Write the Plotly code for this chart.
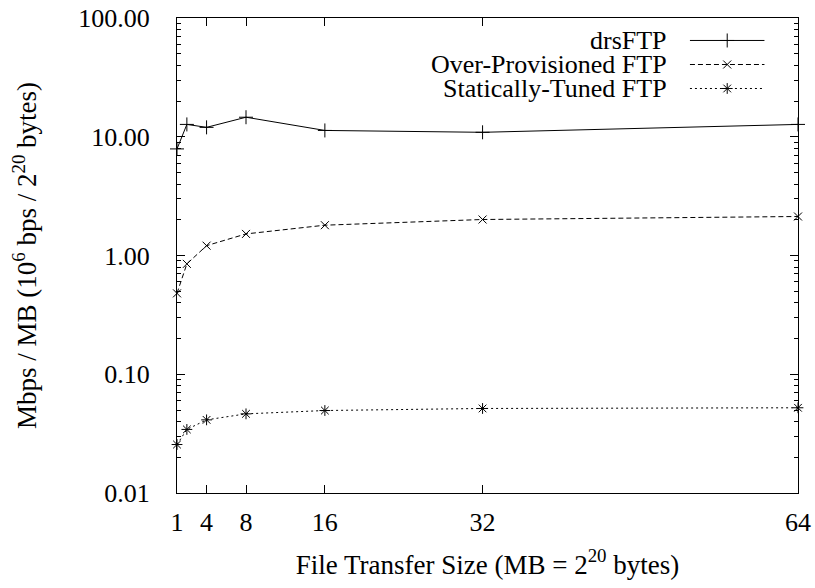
import plotly.graph_objects as go

# ---- data ----
sizes_mb = [1, 2, 4, 8, 16, 32, 64]
drsftp = [7.9, 12.7, 12.0, 14.6, 11.3, 10.9, 12.7]
over_provisioned = [0.48, 0.85, 1.21, 1.52, 1.80, 2.01, 2.13]
statically_tuned = [0.0256, 0.0343, 0.0413, 0.0464, 0.0495, 0.0515, 0.0522]

series_names = ["drsFTP", "Over-Provisioned FTP", "Statically-Tuned FTP"]
x_tick_vals = [1, 4, 8, 16, 32, 64]
y_tick_vals = [0.01, 0.1, 1, 10, 100]
y_tick_text = ["0.01", "0.10", "1.00", "10.00", "100.00"]

FONT = "Liberation Serif"
FS_TICK = 26
FS_TITLE = 27
FS_KEY = 26
styles = [
    dict(dash="solid", symbol="cross-thin", size=10),
    dict(dash="5px,3px", symbol="x-thin", size=8),
    dict(dash="2px,3px", symbol="asterisk", size=9),
]
series = [drsftp, over_provisioned, statically_tuned]

minor_vals = [k * 10 ** e for e in range(-2, 2) for k in range(2, 10)]

fig = go.Figure()
for name, ys, st in zip(series_names, series, styles):
    fig.add_trace(go.Scatter(
        x=sizes_mb, y=ys, name=name, mode="lines+markers",
        line=dict(color="black", width=1, dash=st["dash"]),
        marker=dict(symbol=st["symbol"], size=st["size"], color="black",
                    line=dict(color="black", width=1)),
        cliponaxis=False, showlegend=False,
    ))

# gnuplot-style key: right-aligned text, then line sample with marker
key_rows = [0.9527, 0.9021, 0.8516]
text_x, line_x0, line_x1 = 0.790, 0.826, 0.946
for name, st, ry in zip(series_names, styles, key_rows):
    fig.add_annotation(x=text_x, y=ry, xref="paper", yref="paper", text=name,
                       showarrow=False, xanchor="right", yanchor="middle",
                       borderpad=0,
                       font=dict(family=FONT, size=FS_KEY, color="black"))
    fig.add_shape(type="line", xref="paper", yref="paper", x0=line_x0, x1=line_x1,
                  y0=ry, y1=ry, line=dict(color="black", width=1, dash=st["dash"]))
    fig.add_trace(go.Scatter(
        x=[(line_x0 + line_x1) / 2], y=[ry], xaxis="x2", yaxis="y2", mode="markers",
        marker=dict(symbol=st["symbol"], size=st["size"], color="black",
                    line=dict(color="black", width=1)),
        showlegend=False, hoverinfo="skip", cliponaxis=False,
    ))

fig.update_layout(
    width=815, height=588,
    margin=dict(l=177, r=17, t=18, b=95, autoexpand=False),
    paper_bgcolor="white", plot_bgcolor="white",
    font=dict(family=FONT, size=FS_TICK, color="black"),
    showlegend=False,
    xaxis=dict(
        range=[1, 64], tickvals=x_tick_vals, ticktext=[str(v) for v in x_tick_vals],
        ticks="inside", ticklen=8, tickwidth=1, tickcolor="black",
        showline=True, linecolor="black", linewidth=1, mirror="allticks",
        showgrid=False, zeroline=False, ticklabelstandoff=6, automargin=False,
        title=dict(text="File Transfer Size (MB = 2<sup>20</sup> bytes)", standoff=18,
                   font=dict(family=FONT, size=FS_TITLE)),
        tickfont=dict(family=FONT, size=FS_TICK),
    ),
    yaxis=dict(
        type="log", range=[-2, 2], tickvals=y_tick_vals, ticktext=y_tick_text,
        ticks="inside", ticklen=8, tickwidth=1, tickcolor="black",
        minor=dict(tickvals=minor_vals, ticks="inside", ticklen=4, tickcolor="black",
                   tickwidth=1, showgrid=False),
        showline=True, linecolor="black", linewidth=1, mirror="allticks",
        showgrid=False, zeroline=False, ticklabelstandoff=21, automargin=False,
        title=dict(text="Mbps / MB (10<sup>6</sup> bps / 2<sup>20</sup> bytes)", standoff=33,
                   font=dict(family=FONT, size=FS_TITLE)),
        tickfont=dict(family=FONT, size=FS_TICK),
    ),
    xaxis2=dict(overlaying="x", range=[0, 1], visible=False, fixedrange=True),
    yaxis2=dict(overlaying="y", range=[0, 1], visible=False, fixedrange=True),
)

fig.write_html("out.html", post_script="document.body.style.margin='0';",
               config={"displayModeBar": False})
